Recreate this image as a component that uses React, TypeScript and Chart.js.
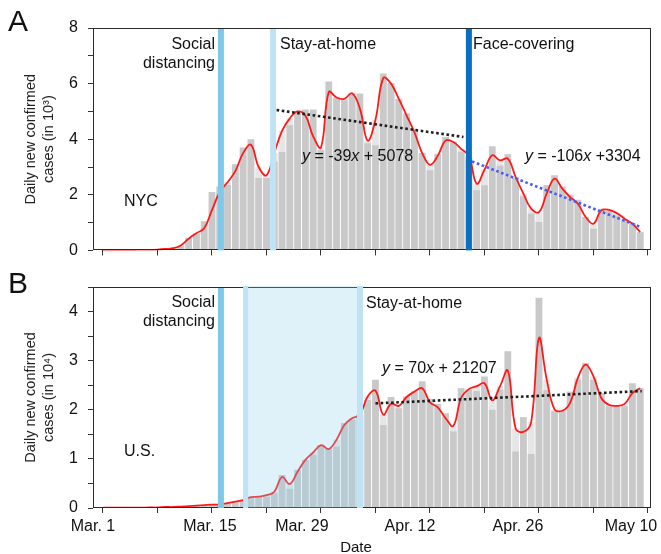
import React, { useEffect, useRef } from 'react';
import { Chart, registerables } from 'chart.js';

Chart.register(...registerables);

const FONT = '"Liberation Sans", Arial, Helvetica, sans-serif';

// ---------- DATA (day 0 = Mar. 1, 2020; day 69 = May 9) ----------
// NYC daily new confirmed cases, in thousands
const nycCases = [
  0, 0, 0, 0, 0, 0.01, 0.01, 0.02, 0.03, 0.05,
  0.15, 0.45, 0.6, 1.05, 2.1, 2.3, 2.35, 3.1, 3.7, 4.0,
  2.6, 2.6, 3.2, 3.54, 4.5, 4.93, 5.07, 5.07, 3.6, 6.08,
  5.5, 5.4, 5.65, 5.64, 3.85, 3.78, 6.36, 6.02, 5.45, 4.92,
  4.38, 3.5, 2.88, 3.48, 4.08, 3.92, 3.55, 3.3, 2.16, 2.34,
  3.75, 3.05, 3.46, 2.6, 1.95, 1.33, 1.02, 2.35, 2.7, 2.3,
  2.0, 1.82, 1.2, 0.78, 1.5, 1.42, 1.25, 1.08, 0.97, 0.65,
];
// NYC smoothed curve, in thousands
const nycSmooth = [
  0.01, 0.01, 0.01, 0.01, 0.015, 0.02, 0.02, 0.03, 0.05, 0.08,
  0.18, 0.42, 0.62, 0.8, 1.45, 2.1, 2.45, 2.85, 3.5, 3.8,
  3.0, 2.7, 3.5, 4.3, 4.75, 5.0, 4.85, 4.1, 3.7, 5.7,
  5.5, 5.45, 5.65, 5.1, 3.95, 4.7, 6.2, 6.0, 5.45, 4.85,
  4.25, 3.5, 3.08, 3.4, 3.95, 3.9, 3.65, 3.4, 2.4, 2.9,
  3.42, 3.24, 3.3, 2.64, 2.04, 1.5, 1.38, 2.05, 2.58, 2.22,
  1.92, 1.68, 1.2, 0.96, 1.44, 1.46, 1.34, 1.14, 0.96, 0.66,
];
// U.S. daily new confirmed cases, in ten-thousands
const usCases = [
  0, 0, 0, 0, 0, 0, 0, 0, 0.01, 0.01,
  0.02, 0.03, 0.04, 0.05, 0.06, 0.07, 0.09, 0.12, 0.16, 0.2,
  0.22, 0.23, 0.3, 0.67, 0.39, 0.78, 0.98, 1.08, 1.28, 1.22,
  1.25, 1.73, 1.8, 1.9, 2.2, 2.61, 1.69, 2.26, 2.03, 2.27,
  2.37, 2.58, 2.22, 2.12, 1.93, 1.56, 2.44, 2.41, 2.38, 2.68,
  2.0, 2.41, 3.19, 1.15, 1.85, 1.1, 4.28, 2.4, 1.97, 1.97,
  2.37, 2.61, 2.95, 2.61, 2.34, 2.07, 2.07, 2.07, 2.54, 2.44,
];
// U.S. smoothed curve, in ten-thousands
const usSmooth = [
  0.005, 0.005, 0.005, 0.005, 0.005, 0.005, 0.01, 0.01, 0.02, 0.02,
  0.03, 0.04, 0.05, 0.06, 0.07, 0.07, 0.1, 0.13, 0.16, 0.22,
  0.23, 0.26, 0.33, 0.63, 0.49, 0.74, 0.98, 1.13, 1.28, 1.2,
  1.39, 1.69, 1.83, 1.9, 2.27, 2.39, 1.9, 2.12, 2.08, 2.26,
  2.37, 2.44, 2.15, 2.05, 1.83, 1.67, 2.24, 2.42, 2.48, 2.54,
  2.19, 2.48, 2.8, 1.62, 1.55, 1.75, 3.46, 2.61, 2.01, 1.98,
  2.14, 2.65, 2.92, 2.68, 2.24, 2.1, 2.08, 2.12, 2.34, 2.44,
];
const days = nycCases.map((_, i) => i);

// Linear trend lines (end points)
const nycTrendStay = [{ x: 22.3, y: 5.05 }, { x: 46.3, y: 4.08 }];
const nycTrendFace = [{ x: 47.4, y: 3.2 }, { x: 69, y: 0.85 }];
const usTrendStay = [{ x: 35, y: 2.13 }, { x: 69.2, y: 2.38 }];

// Interventions (day index)
const nycSocialDay = 15.15;
const nycStayDay = 21.85;
const nycFaceDay = 47.0;
const usSocialDay = 15.15;
const usStayRange = [18.0, 33.4];

// Axes
const X_MIN = -1.28;
const X_MAX = 70.39;
const weekTickDays = [0, 7, 14, 21, 28, 35, 42, 49, 56, 63, 70];
const dateTickDays = [0, 14, 28, 42, 56, 70];
const dateTickLabels = ['Mar. 1', 'Mar. 15', 'Mar. 29', 'Apr. 12', 'Apr. 26', 'May 10'];
const LABEL_NUDGE = [-10, -2, -19, -20, -21, -17];

// ---------- helpers ----------
type Seg = { t: string; i?: boolean };
type Txt = { segs: Seg[]; x: number; y: number; align: 'left' | 'right' | 'center'; size: number };

function drawRich(ctx: CanvasRenderingContext2D, t: Txt) {
  const widths = t.segs.map((s) => {
    ctx.font = `${s.i ? 'italic ' : ''}${t.size}px ${FONT}`;
    return ctx.measureText(s.t).width;
  });
  const total = widths.reduce((a, b) => a + b, 0);
  let cx = t.align === 'left' ? t.x : t.align === 'right' ? t.x - total : t.x - total / 2;
  ctx.textBaseline = 'middle';
  ctx.textAlign = 'left';
  ctx.fillStyle = '#111';
  t.segs.forEach((s, i) => {
    ctx.font = `${s.i ? 'italic ' : ''}${t.size}px ${FONT}`;
    ctx.fillText(s.t, cx, t.y);
    cx += widths[i];
  });
}

type VLine = { day: number; width: number; color: string };

function overlay(id: string, lines: VLine[], band: number[] | null, texts: Txt[], dateLabels: boolean) {
  return {
    id,
    afterDatasetsDraw(chart: any) {
      const { ctx, chartArea: ca, scales } = chart;
      const x = scales.x;
      ctx.save();
      // frame
      ctx.strokeStyle = '#2a2a2a';
      ctx.lineWidth = 1;
      ctx.strokeRect(Math.round(ca.left) + 0.5, Math.round(ca.top) + 0.5, Math.round(ca.width) - 1, Math.round(ca.height) - 1);
      // band
      if (band) {
        const a = x.getPixelForValue(band[0]);
        const b = x.getPixelForValue(band[1]);
        ctx.fillStyle = 'rgba(140, 205, 235, 0.28)';
        ctx.fillRect(a, ca.top - 1, b - a, ca.bottom - ca.top + 1);
        ctx.fillStyle = '#bfe3f5';
        ctx.fillRect(a, ca.top - 1, 5, ca.bottom - ca.top + 1);
        ctx.fillRect(b - 6, ca.top - 1, 6, ca.bottom - ca.top + 1);
      }
      for (const l of lines) {
        const p = x.getPixelForValue(l.day);
        ctx.fillStyle = l.color;
        ctx.fillRect(p - l.width / 2, ca.top + 1, l.width, ca.bottom - ca.top - 1);
      }
      for (const t of texts) drawRich(ctx, t);
      if (dateLabels) {
        ctx.font = `16px ${FONT}`;
        ctx.fillStyle = '#111';
        ctx.textAlign = 'center';
        ctx.textBaseline = 'middle';
        dateTickDays.forEach((d, i) => {
          ctx.fillText(dateTickLabels[i], x.getPixelForValue(d) + LABEL_NUDGE[i], ca.bottom + 19);
        });
        ctx.font = `15px ${FONT}`;
        ctx.fillText('Date', ca.left + ca.width / 2 - 16, ca.bottom + 40);
      }
      ctx.restore();
    },
  };
}

function barSet(vals: number[], color: string, order: number) {
  return {
    type: 'bar' as const,
    data: vals.map((y, i) => ({ x: days[i], y })),
    backgroundColor: color,
    borderWidth: 0,
    barPercentage: 0.87,
    categoryPercentage: 1,
    grouped: false,
    order,
  };
}
function curveSet(vals: number[]) {
  return {
    type: 'line' as const,
    data: vals.map((y, i) => ({ x: days[i], y })),
    borderColor: '#ff1a1a',
    borderWidth: 1.8,
    pointRadius: 0,
    tension: 0.4,
    fill: false,
    order: 2,
  };
}
function trendSet(pts: { x: number; y: number }[], color: string) {
  return {
    type: 'line' as const,
    data: pts,
    borderColor: color,
    borderWidth: 2.6,
    borderDash: [2.6, 2.6],
    pointRadius: 0,
    tension: 0,
    fill: false,
    order: 1,
  };
}

function buildConfig(panel: 'A' | 'B'): any {
  const isA = panel === 'A';
  const datasets: any[] = isA
    ? [
        barSet(nycSmooth, '#e6e6e6', 4),
        barSet(nycCases, '#c9c9c9', 3),
        curveSet(nycSmooth),
        trendSet(nycTrendStay, '#1e1e1e'),
        trendSet(nycTrendFace, '#4a5cf2'),
      ]
    : [
        barSet(usSmooth, '#e6e6e6', 4),
        barSet(usCases, '#c9c9c9', 3),
        curveSet(usSmooth),
        trendSet(usTrendStay, '#1e1e1e'),
      ];

  const lines: VLine[] = isA
    ? [
        { day: nycSocialDay, width: 6, color: '#7fc8e8' },
        { day: nycStayDay, width: 6, color: '#bfe3f5' },
        { day: nycFaceDay, width: 6, color: '#0b6fc0' },
      ]
    : [{ day: usSocialDay, width: 6, color: '#7fc8e8' }];

  const texts: Txt[] = isA
    ? [
        { segs: [{ t: 'A' }], x: 8, y: 23, align: 'left', size: 30 },
        { segs: [{ t: 'Social' }], x: 215, y: 45, align: 'right', size: 16 },
        { segs: [{ t: 'distancing' }], x: 215, y: 64, align: 'right', size: 16 },
        { segs: [{ t: 'Stay-at-home' }], x: 280, y: 45, align: 'left', size: 16 },
        { segs: [{ t: 'Face-covering' }], x: 473, y: 45, align: 'left', size: 16 },
        { segs: [{ t: 'NYC' }], x: 124, y: 202, align: 'left', size: 16 },
        { segs: [{ t: 'y', i: true }, { t: ' = -39' }, { t: 'x', i: true }, { t: ' + 5078' }], x: 302, y: 157, align: 'left', size: 16 },
        { segs: [{ t: 'y', i: true }, { t: ' = -106' }, { t: 'x', i: true }, { t: ' +3304' }], x: 525, y: 157, align: 'left', size: 16 },
      ]
    : [
        { segs: [{ t: 'B' }], x: 8, y: 23, align: 'left', size: 30 },
        { segs: [{ t: 'Social' }], x: 215, y: 41, align: 'right', size: 16 },
        { segs: [{ t: 'distancing' }], x: 215, y: 60, align: 'right', size: 16 },
        { segs: [{ t: 'Stay-at-home' }], x: 366, y: 42, align: 'left', size: 16 },
        { segs: [{ t: 'U.S.' }], x: 124, y: 190, align: 'left', size: 16 },
        { segs: [{ t: 'y', i: true }, { t: ' = 70' }, { t: 'x', i: true }, { t: ' + 21207' }], x: 382, y: 107, align: 'left', size: 16 },
      ];

  return {
    type: 'bar',
    data: { datasets },
    options: {
      animation: false,
      responsive: true,
      maintainAspectRatio: false,
      events: [],
      layout: { padding: { left: 22, right: 10, top: isA ? 28 : 25, bottom: 0 } },
      plugins: { legend: { display: false }, tooltip: { enabled: false } },
      scales: {
        x: {
          type: 'linear',
          min: X_MIN,
          max: X_MAX,
          offset: false,
          afterBuildTicks: (s: any) => {
            s.ticks = weekTickDays.map((v) => ({ value: v }));
          },
          ticks: { display: false },
          grid: { display: true, drawOnChartArea: false, drawTicks: true, tickLength: 5, color: '#333', offset: false },
          border: { display: false },
          afterFit: (s: any) => {
            s.height = isA ? 12 : 54;
          },
        },
        y: {
          type: 'linear',
          min: 0,
          max: isA ? 8 : 4.5,
          ticks: {
            stepSize: isA ? 1 : 0.5,
            callback: (v: number) => (isA ? (v % 2 === 0 ? String(v) : '') : Number.isInteger(v) ? String(v) : ''),
            font: { family: FONT, size: 16 },
            color: '#111',
            padding: 10,
          },
          grid: { drawOnChartArea: false, drawTicks: true, tickLength: 5, color: '#333' },
          border: { display: false },
          title: {
            display: true,
            text: ['Daily new confirmed', isA ? 'cases (in 10³)' : 'cases (in 10⁴)'],
            font: { family: FONT, size: 14.5, lineHeight: 1.24 },
            color: '#222',
            padding: 0,
          },
          afterFit: (s: any) => {
            s.width = 71;
          },
        },
      },
    },
    plugins: [overlay('overlay' + panel, lines, isA ? null : usStayRange, texts, !isA)],
  };
}

export default function App() {
  const topRef = useRef<HTMLCanvasElement>(null);
  const botRef = useRef<HTMLCanvasElement>(null);
  useEffect(() => {
    const a = new Chart(topRef.current as HTMLCanvasElement, buildConfig('A'));
    const b = new Chart(botRef.current as HTMLCanvasElement, buildConfig('B'));
    return () => {
      a.destroy();
      b.destroy();
    };
  }, []);
  return (
    <div style={{ position: 'fixed', left: 0, top: 0, width: 661, height: 554, overflow: 'hidden', background: '#fff' }}>
      <div style={{ position: 'absolute', left: 0, top: 0, width: 661, height: 270 }}>
        <canvas ref={topRef} />
      </div>
      <div style={{ position: 'absolute', left: 0, top: 262, width: 661, height: 300 }}>
        <canvas ref={botRef} />
      </div>
    </div>
  );
}
